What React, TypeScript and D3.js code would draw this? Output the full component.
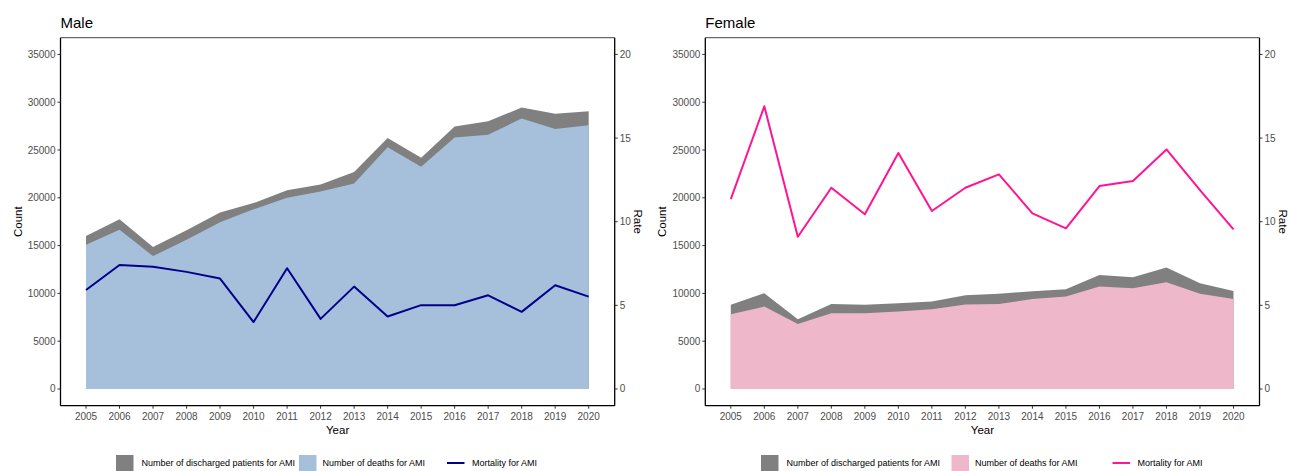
import React from "react";
import * as d3 from "d3";

const years = [2005, 2006, 2007, 2008, 2009, 2010, 2011, 2012, 2013, 2014, 2015, 2016, 2017, 2018, 2019, 2020];

const maleDischarged = [16000, 17750, 14850, 16600, 18450, 19450, 20800, 21400, 22700, 26250, 24200, 27450, 28000, 29450, 28800, 29050];
const maleDeaths = [15100, 16650, 13900, 15600, 17450, 18800, 20000, 20650, 21500, 25300, 23250, 26300, 26600, 28300, 27200, 27600];
const maleMortality = [5.92, 7.41, 7.31, 7.0, 6.6, 4.0, 7.22, 4.19, 6.12, 4.33, 5.01, 5.01, 5.6, 4.61, 6.2, 5.52];

const femaleDischarged = [8800, 10020, 7300, 8900, 8800, 8980, 9150, 9800, 9950, 10230, 10440, 11930, 11700, 12700, 11070, 10260];
const femaleDeaths = [7830, 8620, 6790, 7930, 7930, 8100, 8350, 8850, 8900, 9400, 9670, 10710, 10540, 11170, 9950, 9400];
const femaleMortality = [11.35, 16.9, 9.1, 12.03, 10.44, 14.11, 10.64, 12.03, 12.83, 10.5, 9.6, 12.13, 12.43, 14.32, 11.89, 9.54];

const countTicks = [0, 5000, 10000, 15000, 20000, 25000, 30000, 35000];
const rateTicks = [0, 5, 10, 15, 20];

const legendLabels = ["Number of discharged patients for AMI", "Number of deaths for AMI", "Mortality for AMI"];

const FONT = "'Liberation Sans', Arial, Helvetica, sans-serif";
const GRAY = "#808080";

type PanelProps = {
  ox: number;
  title: string;
  discharged: number[];
  deaths: number[];
  mortality: number[];
  fill: string;
  lineColor: string;
  countLabelX: number;
  rateLabelX: number;
  legendX: number[];
};

function Panel(p: PanelProps) {
  const left = p.ox + 60.5;
  const right = p.ox + 614.7;
  const top = 37.7;
  const bottom = 405.7;
  const x = d3.scaleLinear().domain([2005, 2020]).range([p.ox + 86, p.ox + 588.7]);
  const y = d3.scaleLinear().domain([-1750, 36750]).range([bottom, top]);
  const yr = d3.scaleLinear().domain([-1, 21]).range([bottom, top]);

  const areaGen = (vals: number[]) =>
    d3
      .area<number>()
      .x((_, i) => x(years[i]))
      .y0(y(0))
      .y1((d) => y(d))(vals) as string;
  const lineGen = d3
    .line<number>()
    .x((_, i) => x(years[i]))
    .y((d) => yr(d))(p.mortality) as string;

  const midY = (top + bottom) / 2;
  const midX = (left + right) / 2;
  const [lx0, lx1, lx2] = p.legendX;
  const legY = 463;

  return (
    <g fontFamily={FONT}>
      <text x={left} y={28} fontSize={15} fill="#000">{p.title}</text>
      <path d={areaGen(p.discharged)} fill={GRAY} />
      <path d={areaGen(p.deaths)} fill={p.fill} />
      <path d={lineGen} fill="none" stroke={p.lineColor} strokeWidth={2} strokeLinejoin="round" />
      {/* frame */}
      <line x1={left} x2={right} y1={top} y2={top} stroke="#444" strokeWidth={1} />
      <line x1={left} x2={right} y1={bottom} y2={bottom} stroke="#000" strokeWidth={1.3} />
      <line x1={left} x2={left} y1={top} y2={bottom} stroke="#000" strokeWidth={1.3} />
      <line x1={right} x2={right} y1={top} y2={bottom} stroke="#000" strokeWidth={1.3} />
      {countTicks.map((t) => (
        <g key={"c" + t}>
          <line x1={left - 3} x2={left} y1={y(t)} y2={y(t)} stroke="#333" strokeWidth={1} />
          <text x={left - 5} y={y(t)} dy="0.35em" textAnchor="end" fontSize={10} fill="#4d4d4d">{t}</text>
        </g>
      ))}
      {rateTicks.map((t) => (
        <g key={"r" + t}>
          <line x1={right} x2={right + 3} y1={yr(t)} y2={yr(t)} stroke="#333" strokeWidth={1} />
          <text x={right + 5} y={yr(t)} dy="0.35em" textAnchor="start" fontSize={10} fill="#4d4d4d">{t}</text>
        </g>
      ))}
      {years.map((yv) => (
        <g key={"x" + yv}>
          <line x1={x(yv)} x2={x(yv)} y1={bottom} y2={bottom + 3} stroke="#333" strokeWidth={1} />
          <text x={x(yv)} y={419.5} textAnchor="middle" fontSize={10} fill="#4d4d4d">{yv}</text>
        </g>
      ))}
      <text x={midX} y={433.5} textAnchor="middle" fontSize={11.5} fill="#000">Year</text>
      <text transform={`translate(${p.countLabelX},${midY}) rotate(-90)`} textAnchor="middle" dy="0.35em" fontSize={11.5} fill="#000">Count</text>
      <text transform={`translate(${p.rateLabelX},${midY}) rotate(90)`} textAnchor="middle" dy="0.35em" fontSize={11.5} fill="#000">Rate</text>
      {/* legend */}
      <rect x={lx0} y={455} width={17.5} height={16} fill={GRAY} />
      <text x={lx0 + 25.5} y={legY} dy="0.35em" fontSize={9} fill="#000">{legendLabels[0]}</text>
      <rect x={lx1} y={455} width={17.5} height={16} fill={p.fill} />
      <text x={lx1 + 23.5} y={legY} dy="0.35em" fontSize={9} fill="#000">{legendLabels[1]}</text>
      <line x1={lx2} x2={lx2 + 17.5} y1={legY} y2={legY} stroke={p.lineColor} strokeWidth={2} />
      <text x={lx2 + 25} y={legY} dy="0.35em" fontSize={9} fill="#000">{legendLabels[2]}</text>
    </g>
  );
}

export default function App() {
  return (
    <svg width={1291} height={471} style={{ position: "absolute", left: 0, top: 0, background: "#fff" }}>
      <rect width={1291} height={471} fill="#fff" />
      <Panel
        ox={0}
        title="Male"
        discharged={maleDischarged}
        deaths={maleDeaths}
        mortality={maleMortality}
        fill="#A6C0DB"
        lineColor="#00008B"
        countLabelX={18}
        rateLabelX={638}
        legendX={[116, 299, 447]}
      />
      <Panel
        ox={644.8}
        title="Female"
        discharged={femaleDischarged}
        deaths={femaleDeaths}
        mortality={femaleMortality}
        fill="#EEB7CA"
        lineColor="#FF1493"
        countLabelX={662}
        rateLabelX={1283}
        legendX={[761, 951.5, 1112.5]}
      />
    </svg>
  );
}
